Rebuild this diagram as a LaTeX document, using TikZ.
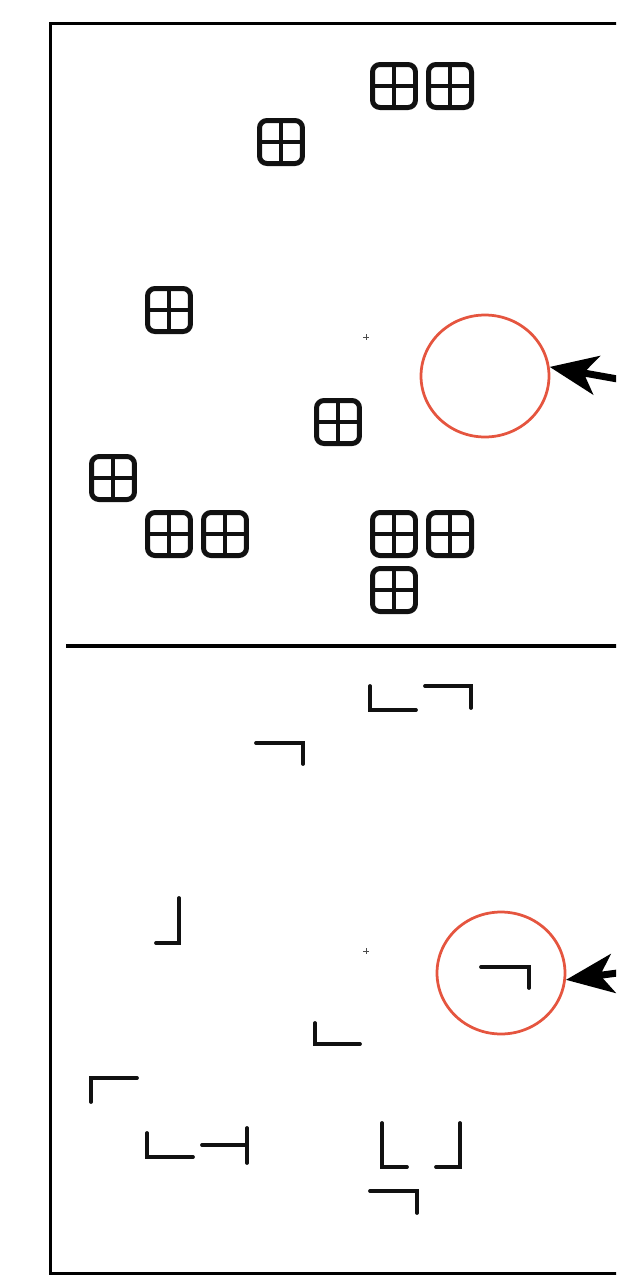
\documentclass[tikz,border=0pt]{standalone}
\usepackage{tikz}
\usetikzlibrary{arrows.meta,positioning,shapes.geometric}
\definecolor{RingRed}{HTML}{E5553F}
\definecolor{GlyphInk}{HTML}{111111}

\begin{document}
\begin{tikzpicture}[
    x=0.02cm, y=-0.02cm,
    cell/.style={
      draw=GlyphInk, line width=0.1cm, rounded corners=0.15cm,
      minimum size=0.86cm, inner sep=0pt,
      path picture={
        \draw[GlyphInk, line width=0.08cm]
          (path picture bounding box.north) -- (path picture bounding box.south)
          (path picture bounding box.west) -- (path picture bounding box.east);}
    },
    corner/.style={draw=GlyphInk, line width=0.075cm, line cap=round},
    ring/.style={
      draw=RingRed, line width=0.055cm, ellipse, inner sep=0pt,
      minimum width=2.56cm, minimum height=2.44cm
    },
    arr/.style={-{Stealth[length=0.95cm, width=0.78cm, inset=0.26cm]}, line width=0.14cm},
    pivot/.style={gray!60!black, line width=0.5pt}
  ]

  \clip (0,0) rectangle (616,1275);

  % frame and divider
  \draw[line width=0.06cm] (50,23) rectangle (690,1273);
  \draw[line width=0.07cm] (66,646) -- (690,646);

  % upper half: full cells
  \node[cell] (u1)  at (394,86)  {};
  \node[cell] (u2)  at (450,86)  {};
  \node[cell] (u3)  at (281,142) {};
  \node[cell] (u4)  at (169,310) {};
  \node[cell] (u5)  at (338,422) {};
  \node[cell] (u6)  at (113,478) {};
  \node[cell] (u7)  at (169,534) {};
  \node[cell] (u8)  at (225,534) {};
  \node[cell] (u9)  at (394,534) {};
  \node[cell] (u10) at (450,534) {};
  \node[cell] (u11) at (394,590) {};

  \draw[pivot] (363,337) -- (369,337) (366,334) -- (366,340);

  \node[ring] (ringA) at (485,376) {};
  \coordinate (tailA) at (640,383);
  \draw[arr] (tailA) -- (ringA.8);

  % lower half: corner pieces
  \draw[corner] (370,686) -- (370,710) -- (416,710);
  \draw[corner] (425,686) -- (471,686) -- (471,708);
  \draw[corner] (256,743) -- (303,743) -- (303,764);
  \draw[corner] (179,898) -- (179,943) -- (156,943);
  \draw[corner] (481,967) -- (529,967) -- (529,988);
  \draw[corner] (315,1023) -- (315,1044) -- (360,1044);
  \draw[corner] (91,1102) -- (91,1078) -- (137,1078);
  \draw[corner] (147,1133) -- (147,1157) -- (193,1157);
  \draw[corner] (202,1145) -- (247,1145) (247,1128) -- (247,1163);
  \draw[corner] (382,1123) -- (382,1167) -- (407,1167);
  \draw[corner] (460,1123) -- (460,1167) -- (436,1167);
  \draw[corner] (370,1191) -- (417,1191) -- (417,1213);

  \draw[pivot] (363,951) -- (369,951) (366,948) -- (366,954);

  \node[ring] (ringB) at (501,973) {};
  \coordinate (tailB) at (640,970);
  \draw[arr] (tailB) -- (ringB.-6);

\end{tikzpicture}
\end{document}
